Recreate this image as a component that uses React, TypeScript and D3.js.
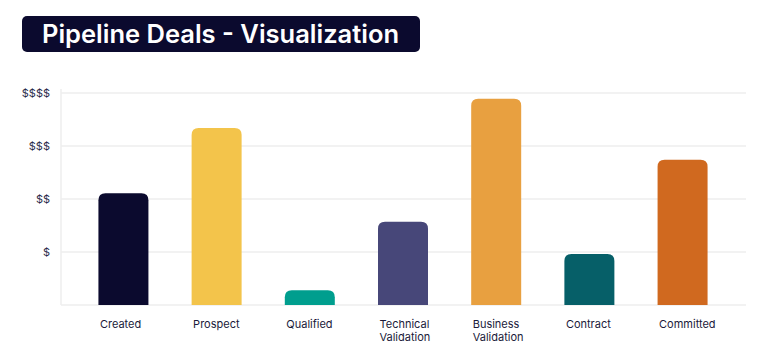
import React from "react";
import * as d3 from "d3";

const categories: string[][] = [
  ["Created"],
  ["Prospect"],
  ["Qualified"],
  ["Technical", "Validation"],
  ["Business", "Validation"],
  ["Contract"],
  ["Committed"],
];
const values: number[] = [2.11, 3.34, 0.28, 1.57, 3.89, 0.96, 2.74];
const colors: string[] = ["#0b0a2e", "#f3c44b", "#009e8e", "#474779", "#e8a040", "#065f68", "#d0691f"];
const tickValues: number[] = [1, 2, 3, 4];
const tickLabels: string[] = ["$", "$$", "$$$", "$$$$"];
const title = "Pipeline Deals - Visualization";

const W = 776;
const H = 363;
const left = 61;
const right = 746;
const top = 93;
const bottom = 305;
const font = "Inter, 'Noto Sans', sans-serif";

function topRounded(x: number, y: number, w: number, h: number, r: number) {
  const rr = Math.min(r, h, w / 2);
  return `M${x},${y + h}V${y + rr}Q${x},${y} ${x + rr},${y}H${x + w - rr}Q${x + w},${y} ${x + w},${y + rr}V${y + h}Z`;
}

export default function App() {
  const idx = categories.map((_, i) => String(i));
  const x = d3.scaleBand<string>().domain(idx).range([left - 0.5, right - 0.5]).paddingInner(0.4635).paddingOuter(0.407);
  const y = d3.scaleLinear().domain([0, 4]).range([bottom, top]);
  return (
    <svg width={W} height={H} style={{ position: "absolute", left: 0, top: 0, background: "#fff" }}>
      <rect x={22} y={16} width={398} height={36} rx={5} fill="#0b0a2e" />
      <text x={42} y={43} fill="#fff" fontFamily={font} fontWeight={600} fontSize={25.5}>{title}</text>
      {tickValues.map((t, i) => (
        <g key={t}>
          <line x1={left} x2={right} y1={y(t)} y2={y(t)} stroke="#eeeeee" strokeWidth={1.5} />
          <text x={50} y={y(t) + 4} textAnchor="end" fontFamily={font} fontSize={11} fill="#2b2b4a">{tickLabels[i]}</text>
        </g>
      ))}
      <line x1={left} x2={left} y1={top - 4} y2={bottom} stroke="#eeeeee" strokeWidth={1.5} />
      <line x1={left} x2={right} y1={bottom} y2={bottom} stroke="#eeeeee" strokeWidth={1.5} />
      {values.map((v, i) => (
        <path key={i} d={topRounded(x(String(i))!, y(v), x.bandwidth(), bottom - y(v), 7)} fill={colors[i]} />
      ))}
      {categories.map((lines, i) => (
        <text key={i} x={x(String(i))! + 1.5} y={328} fontFamily={font} fontSize={11} fill="#1a1a3a">
          {lines.map((l, j) => (
            <tspan key={j} x={x(String(i))! + 1.5} dy={j === 0 ? 0 : 13}>{l}</tspan>
          ))}
        </text>
      ))}
    </svg>
  );
}
